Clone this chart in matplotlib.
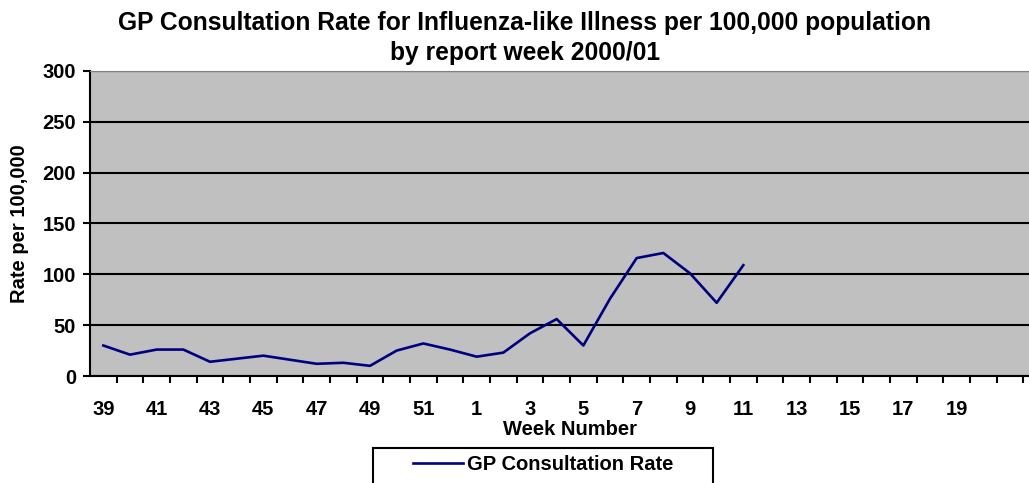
import numpy as np
import matplotlib.pyplot as plt
from matplotlib.patches import Rectangle

plt.rcParams['font.family'] = ['Liberation Sans', 'DejaVu Sans']
plt.rcParams['font.weight'] = 'bold'

# week numbers on the category axis (season 2000/01)
weeks = list(range(39, 53)) + list(range(1, 23))
week_labels = [str(w) if (i % 2 == 0 and not (i >= 14 and w > 20)) else '' for i, w in enumerate(weeks)]
# reported rates (week 39 .. week 11)
rates = [30, 21, 26, 26, 14, 17, 20, 16, 12, 13, 10, 25, 32, 26, 19, 23, 42, 56, 30, 76, 116, 121, 101, 72, 109]

fs = 14.5
fig = plt.figure(figsize=(10.29, 4.83), dpi=100)
ax = fig.add_axes([90/1029, 107/483, 960/1029, 305/483])
ax.set_facecolor('#c0c0c0')

pos = np.arange(len(weeks))
ax.plot(pos[:len(rates)], rates, color='#000080', lw=1.9, label='GP Consultation Rate')

ax.set_ylim(0, 300)
ax.set_yticks(np.arange(0, 301, 50))
ax.yaxis.grid(True, color='black', lw=1.5)
ax.set_axisbelow(True)
ax.set_xlim(-0.5, len(weeks) - 0.5)
ax.set_xticks(pos)
ax.set_xticklabels(week_labels)
ax.set_xticks(pos[:-1] + 0.5, minor=True)
ax.tick_params(axis='x', which='major', length=0, pad=17, labelsize=fs)
ax.tick_params(axis='x', which='minor', length=5, width=1.5)
ax.tick_params(axis='y', length=5, width=1.5, labelsize=fs, pad=5)
for s in ['left', 'bottom']:
    ax.spines[s].set_linewidth(1.5)
ax.spines['top'].set_color('#808080')
ax.spines['right'].set_visible(False)

ax.set_xlabel('Week Number', fontsize=fs, fontweight='bold', labelpad=1)
ax.set_ylabel('Rate per 100,000', fontsize=fs, fontweight='bold', labelpad=10)
fig.suptitle('GP Consultation Rate for Influenza-like Illness per 100,000 population\nby report week 2000/01',
             fontsize=17.7, fontweight='bold', x=525/1029, y=0.978, linespacing=1.33)

# legend box runs off the bottom of the image
fig.patches.append(Rectangle((373/1029, -0.05), 340/1029, 0.05 + 35/483, transform=fig.transFigure,
                             facecolor='white', edgecolor='black', lw=1.5))
leg = fig.legend(loc='center left', bbox_to_anchor=(413/1029, 1 - 465/483), frameon=False,
                 fontsize=fs, handlelength=2.5, handletextpad=0.2, borderpad=0, borderaxespad=0)
for t in leg.get_texts():
    t.set_fontweight('bold')

plt.savefig('out.png', dpi=100)
